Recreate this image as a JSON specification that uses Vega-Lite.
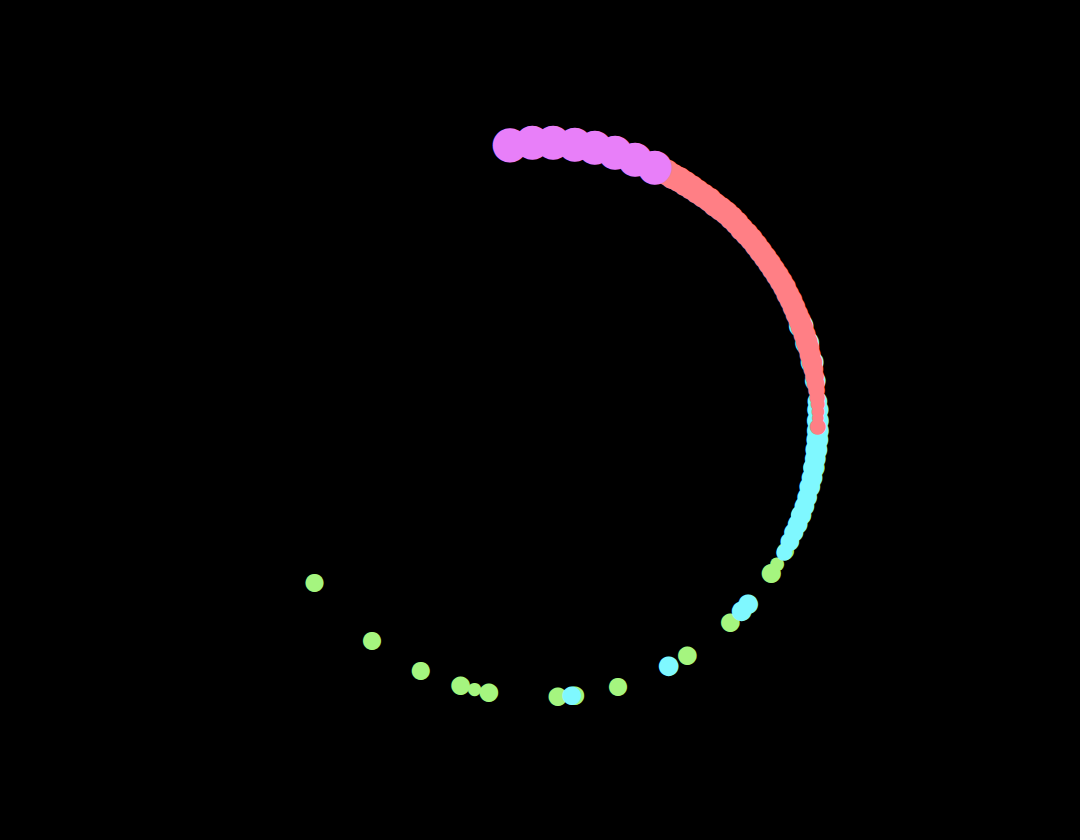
{
  "$schema": "https://vega.github.io/schema/vega-lite/v6.json",
  "width": 1080,
  "height": 840,
  "autosize": {"type": "fit", "contains": "padding"},
  "padding": 0,
  "background": "#000000",
  "config": {"view": {"stroke": null}},
  "data": {
    "values": [
      {"angle": 100, "value": 20, "group": "green"},
      {"angle": 110, "value": 19, "group": "green"},
      {"angle": 118, "value": 16, "group": "green"},
      {"angle": 121.5, "value": 13, "group": "green"},
      {"angle": 123.7, "value": 18, "group": "green"},
      {"angle": 136.8, "value": 17.5, "group": "green"},
      {"angle": 148, "value": 17.5, "group": "green"},
      {"angle": 163.7, "value": 17, "group": "green"},
      {"angle": 172.8, "value": 17.5, "group": "green"},
      {"angle": 176.3, "value": 17.5, "group": "green"},
      {"angle": 190.6, "value": 17.5, "group": "green"},
      {"angle": 193.6, "value": 12.5, "group": "green"},
      {"angle": 196.6, "value": 17.5, "group": "green"},
      {"angle": 205.4, "value": 17, "group": "green"},
      {"angle": 217.2, "value": 17, "group": "green"},
      {"angle": 234.2, "value": 17, "group": "green"},
      {"angle": 70, "value": 23, "group": "cyan"},
      {"angle": 74, "value": 22.5, "group": "cyan"},
      {"angle": 78, "value": 21.5, "group": "cyan"},
      {"angle": 82, "value": 19.5, "group": "cyan"},
      {"angle": 86, "value": 18.5, "group": "cyan"},
      {"angle": 88, "value": 20, "group": "cyan"},
      {"angle": 90, "value": 20.5, "group": "cyan"},
      {"angle": 92, "value": 20.5, "group": "cyan"},
      {"angle": 94, "value": 20.5, "group": "cyan"},
      {"angle": 96, "value": 20.5, "group": "cyan"},
      {"angle": 98, "value": 19.5, "group": "cyan"},
      {"angle": 100, "value": 19.5, "group": "cyan"},
      {"angle": 102, "value": 19.5, "group": "cyan"},
      {"angle": 104, "value": 19.5, "group": "cyan"},
      {"angle": 106, "value": 18.5, "group": "cyan"},
      {"angle": 108, "value": 18.5, "group": "cyan"},
      {"angle": 110, "value": 18.5, "group": "cyan"},
      {"angle": 112, "value": 18.5, "group": "cyan"},
      {"angle": 114, "value": 18, "group": "cyan"},
      {"angle": 116, "value": 17.5, "group": "cyan"},
      {"angle": 118.5, "value": 15, "group": "cyan"},
      {"angle": 131.5, "value": 18.5, "group": "cyan"},
      {"angle": 133.5, "value": 18.5, "group": "cyan"},
      {"angle": 152.4, "value": 18.5, "group": "cyan"},
      {"angle": 173.4, "value": 17.5, "group": "cyan"},
      {"angle": 24, "value": 25, "group": "pink"},
      {"angle": 25.5, "value": 24.7, "group": "pink"},
      {"angle": 27, "value": 24.4, "group": "pink"},
      {"angle": 28.5, "value": 24.2, "group": "pink"},
      {"angle": 30, "value": 24, "group": "pink"},
      {"angle": 31.5, "value": 23.8, "group": "pink"},
      {"angle": 33, "value": 23.6, "group": "pink"},
      {"angle": 34.5, "value": 23.4, "group": "pink"},
      {"angle": 36, "value": 23.2, "group": "pink"},
      {"angle": 37.5, "value": 23.1, "group": "pink"},
      {"angle": 39, "value": 23, "group": "pink"},
      {"angle": 40.5, "value": 22.8, "group": "pink"},
      {"angle": 42, "value": 22.7, "group": "pink"},
      {"angle": 43.5, "value": 22.5, "group": "pink"},
      {"angle": 45, "value": 22.4, "group": "pink"},
      {"angle": 46.5, "value": 22.3, "group": "pink"},
      {"angle": 48, "value": 22.2, "group": "pink"},
      {"angle": 49.5, "value": 22, "group": "pink"},
      {"angle": 51, "value": 21.9, "group": "pink"},
      {"angle": 52.5, "value": 21.8, "group": "pink"},
      {"angle": 54, "value": 21.7, "group": "pink"},
      {"angle": 55.5, "value": 21.7, "group": "pink"},
      {"angle": 57, "value": 21.6, "group": "pink"},
      {"angle": 58.5, "value": 21.6, "group": "pink"},
      {"angle": 60, "value": 21.5, "group": "pink"},
      {"angle": 61.5, "value": 21.5, "group": "pink"},
      {"angle": 63, "value": 21.4, "group": "pink"},
      {"angle": 64.5, "value": 21.4, "group": "pink"},
      {"angle": 66, "value": 21.3, "group": "pink"},
      {"angle": 67.5, "value": 21.2, "group": "pink"},
      {"angle": 69, "value": 21.1, "group": "pink"},
      {"angle": 70.5, "value": 21, "group": "pink"},
      {"angle": 72, "value": 20.8, "group": "pink"},
      {"angle": 73.5, "value": 20.5, "group": "pink"},
      {"angle": 75, "value": 20.2, "group": "pink"},
      {"angle": 76.5, "value": 19.8, "group": "pink"},
      {"angle": 78, "value": 19.4, "group": "pink"},
      {"angle": 79.5, "value": 18.6, "group": "pink"},
      {"angle": 81, "value": 17.8, "group": "pink"},
      {"angle": 82.5, "value": 16.8, "group": "pink"},
      {"angle": 84, "value": 15.6, "group": "pink"},
      {"angle": 85.5, "value": 14.4, "group": "pink"},
      {"angle": 87, "value": 13.2, "group": "pink"},
      {"angle": 88.4, "value": 12, "group": "pink"},
      {"angle": 89.6, "value": 11, "group": "pink"},
      {"angle": 91.4, "value": 15, "group": "pink"},
      {"angle": 353.8, "value": 32.5, "group": "magenta"},
      {"angle": 358.4, "value": 32, "group": "magenta"},
      {"angle": 2.7, "value": 32, "group": "magenta"},
      {"angle": 7.2, "value": 32, "group": "magenta"},
      {"angle": 11.4, "value": 32, "group": "magenta"},
      {"angle": 15.7, "value": 32, "group": "magenta"},
      {"angle": 20, "value": 32, "group": "magenta"},
      {"angle": 24.4, "value": 32, "group": "magenta"}
    ]
  },
  "mark": {"type": "text", "text": "●", "font": "DejaVu Sans", "align": "center", "baseline": "middle", "dy": -1},
  "encoding": {
    "theta": {"field": "angle", "type": "quantitative", "scale": {"domain": [0, 360], "range": [0, 6.283185]}},
    "radius": {"value": 278},
    "size": {"field": "value", "type": "quantitative", "scale": {"type": "linear", "domain": [0, 40], "range": [0, 55.5]}, "legend": null},
    "color": {
      "field": "group",
      "type": "nominal",
      "scale": {"domain": ["green", "cyan", "pink", "magenta"], "range": ["#a5f57f", "#7ff8ff", "#ff7f85", "#e87ff9"]},
      "legend": null
    }
  }
}
